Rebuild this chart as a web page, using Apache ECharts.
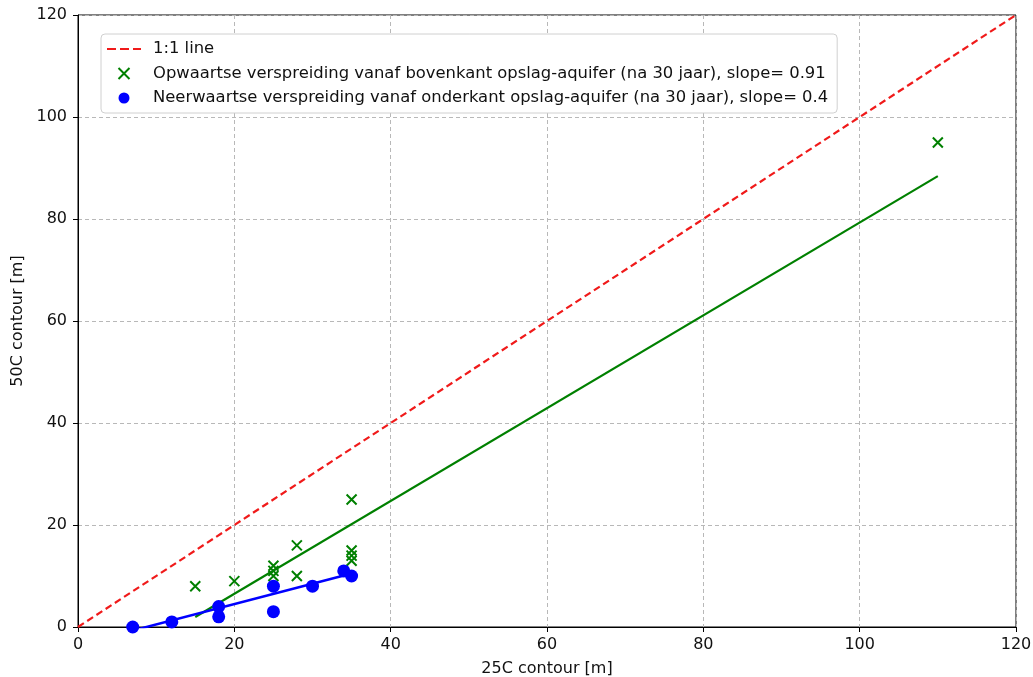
<!DOCTYPE html>
<html><head><meta charset="utf-8">
<script src="https://cdn.jsdelivr.net/npm/echarts@6/dist/echarts.min.js"></script>
<style>html,body{margin:0;padding:0;background:#fff}#c{width:1033px;height:677px}</style>
</head><body><div id="c"></div>
<script>
// 1:1 reference line
const oneToOneX = [0, 120];
const oneToOneY = [0, 120];
// Upward spreading (green crosses)
const upX = [15, 20, 25, 25, 25, 28, 28, 35, 35, 35, 35, 110];
const upY = [8, 9, 12, 11, 10, 16, 10, 25, 15, 14, 13, 95];
// Downward spreading (blue circles)
const downX = [7, 12, 18, 18, 25, 25, 30, 34, 35];
const downY = [0, 1, 4, 2, 8, 3, 8, 11, 10];
// Fitted lines
const fitUpX = [15, 110];
const fitUpY = [1.95, 88.4];
const fitDownX = [7, 35];
const fitDownY = [-0.7, 10.5];
const xTicks = [0, 20, 40, 60, 80, 100, 120];
const yTicks = [0, 20, 40, 60, 80, 100, 120];

const names = ['1:1 line',
  'Opwaartse verspreiding vanaf bovenkant opslag-aquifer (na 30 jaar), slope= 0.91',
  'Neerwaartse verspreiding vanaf onderkant opslag-aquifer (na 30 jaar), slope= 0.4'];
const zip = (a, b) => a.map((v, i) => [v, b[i]]);
const font = 'DejaVu Sans';
const RED = '#f01a1a', GREEN = '#008000', BLUE = '#0000ff';
const XPATH = 'path://M0,0L10,10M10,0L0,10';
const chart = echarts.init(document.getElementById('c'));
chart.setOption({
  animation: false,
  textStyle: {fontFamily: font},
  grid: {left: 78, right: 17, top: 15, bottom: 50, show: true, borderColor: '#000', borderWidth: 1,
         containLabel: false, outerBoundsMode: 'none'},
  legend: {
    data: [
      {name: names[0], icon: 'path://M0,0h9v2h-9zM13,0h9v2h-9zM26,0h8v2h-8z', itemStyle: {color: RED}},
      {name: names[1]},
      {name: names[2]}
    ],
    orient: 'vertical', left: 101, top: 34,
    padding: [6, 9, 6, 6], itemGap: 6.5, itemWidth: 34, itemHeight: 11,
    backgroundColor: '#fff', borderColor: '#d0d0d0', borderWidth: 1, borderRadius: 4,
    textStyle: {fontFamily: font, fontSize: 16.4, lineHeight: 18, color: '#111', padding: [0, 0, 0, 7]}
  },
  xAxis: {
    type: 'value', min: xTicks[0], max: xTicks[xTicks.length - 1], interval: 20,
    name: '25C contour [m]', nameLocation: 'middle', nameGap: 34,
    nameTextStyle: {fontSize: 16, color: '#111', fontFamily: font},
    axisLine: {show: true, onZero: false, lineStyle: {color: '#000'}},
    axisTick: {show: true, inside: false, length: 5, lineStyle: {color: '#000'}},
    axisLabel: {fontSize: 16, color: '#111', margin: 10, fontFamily: font},
    splitLine: {show: true, lineStyle: {color: '#b8b8b8', type: [4, 3]}}
  },
  yAxis: {
    type: 'value', min: yTicks[0], max: yTicks[yTicks.length - 1], interval: 20,
    name: '50C contour [m]', nameLocation: 'middle', nameGap: 48,
    nameTextStyle: {fontSize: 16, color: '#111', fontFamily: font},
    axisLine: {show: true, onZero: false, lineStyle: {color: '#000'}},
    axisTick: {show: true, inside: false, length: 5, lineStyle: {color: '#000'}},
    axisLabel: {fontSize: 16, color: '#111', margin: 11, fontFamily: font},
    splitLine: {show: true, lineStyle: {color: '#b8b8b8', type: [4, 3]}}
  },
  series: [
    {name: names[0], type: 'line', data: zip(oneToOneX, oneToOneY), symbol: 'none',
     lineStyle: {color: RED, width: 2.2, type: [7, 4]}, itemStyle: {color: RED}, z: 2},
    {name: names[1], type: 'scatter', data: zip(upX, upY),
     symbol: XPATH, symbolSize: 10,
     itemStyle: {color: 'rgba(0,0,0,0)', borderColor: GREEN, borderWidth: 2, opacity: 1}, z: 3},
    {name: 'fitUp', type: 'line', data: zip(fitUpX, fitUpY), symbol: 'none', clip: true,
     lineStyle: {color: GREEN, width: 2.2}, z: 2},
    {name: names[2], type: 'scatter', data: zip(downX, downY), symbol: 'circle', symbolSize: 13,
     itemStyle: {color: BLUE, opacity: 1}, z: 4},
    {name: 'fitDown', type: 'line', data: zip(fitDownX, fitDownY), symbol: 'none', clip: true,
     lineStyle: {color: BLUE, width: 2.5}, z: 4}
  ]
});
</script></body></html>
